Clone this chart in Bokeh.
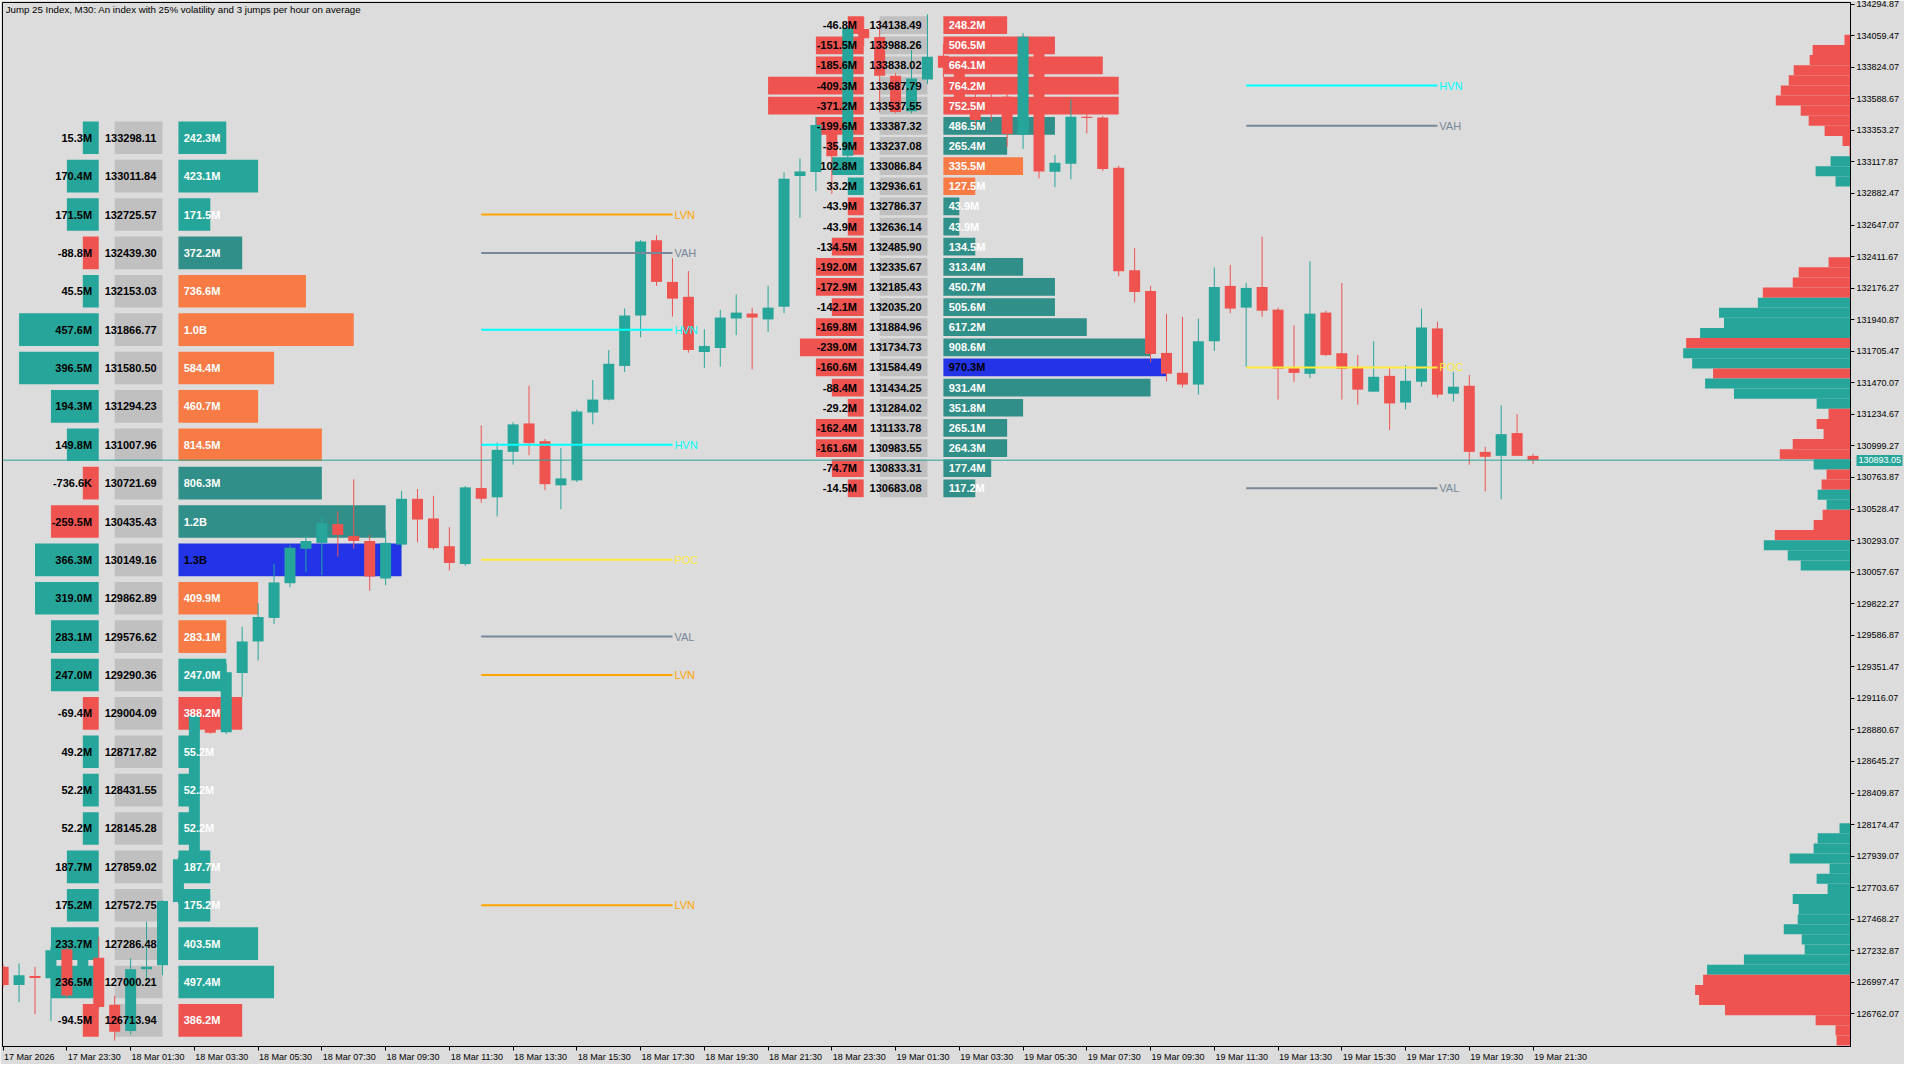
import math
from bokeh.plotting import figure
from bokeh.models import (ColumnDataSource, FixedTicker, Span, Label, NumeralTickFormatter, Range1d,
                          LinearAxis)
from bokeh.core.properties import value
from bokeh.embed import file_html
from bokeh.resources import INLINE

TITLE = "Jump 25 Index, M30:  An index with 25% volatility and 3 jumps per hour on average"

# ---------------- candles (M30 bars, index 0 = 17 Mar 21:30) ----------------
opens = [127113, 126978, 127044, 127027, 127244, 127090, 127181, 126830, 126635, 127095,
         127124, 127597, 127915, 129000, 128864, 129306, 129541, 129716, 129975, 130232,
         130276, 130416, 130328, 130290, 130010, 130263, 130605, 130458, 130251, 130118,
         130685, 130616, 130955, 131167, 131035, 130705, 130742, 131249, 131345, 131596,
         131972, 132533, 132223, 132112, 131700, 131730, 131950, 131987, 131943, 132038,
         133013, 133042, 133393, 133165, 134110, 134050, 133760, 133497, 133733, 133910,
         133830, 133600, 133560, 133605, 133320, 133930, 133045, 133105, 133455, 133450,
         133075, 132310, 132155, 131693, 131545, 131457, 131780, 132193, 132031, 132185,
         132016, 131588, 131537, 131994, 131691, 131581, 131404, 131522, 131323, 131478,
         131876, 131389, 131448, 130955, 130925, 131095, 130925]
highs = [127130, 127138, 127113, 127260, 127260, 127200, 127336, 126897, 127176, 127450,
         127610, 127930, 129000, 129050, 129377, 129650, 129826, 130120, 130260, 130328,
         130482, 130511, 130750, 130335, 130372, 130663, 130678, 130627, 130393, 130700,
         131152, 131025, 131175, 131449, 131050, 130985, 131270, 131492, 131714, 132025,
         132535, 132570, 132400, 132304, 131870, 132015, 132130, 132030, 132194, 133040,
         133143, 133453, 133420, 134130, 134200, 134175, 133780, 133953, 134219, 134000,
         133900, 133640, 133640, 133640, 134080, 134000, 133170, 133585, 133600, 133460,
         133090, 132475, 132193, 131985, 131963, 131950, 132330, 132350, 132215, 132561,
         132030, 131898, 132377, 132008, 132214, 131677, 131780, 131581, 131603, 132023,
         131927, 131552, 131529, 130992, 131301, 131235, 130940]
lows = [126960, 126850, 126760, 126710, 126880, 127040, 126800, 126563, 126610, 127005,
        127051, 127580, 127900, 128850, 128850, 129127, 129399, 129670, 129945, 130057,
        130035, 130173, 130232, 129920, 129960, 130240, 130280, 130225, 130070, 130105,
        130575, 130474, 130860, 130930, 130670, 130527, 130730, 131160, 131340, 131550,
        131810, 132193, 131965, 131695, 131582, 131590, 131826, 131570, 131850, 131990,
        132700, 132900, 132880, 133050, 133980, 133488, 133480, 133480, 133700, 133750,
        133500, 133360, 133420, 133230, 133215, 132995, 132930, 132988, 133330, 133050,
        132265, 132070, 131623, 131480, 131435, 131383, 131708, 131990, 131590, 131964,
        131345, 131478, 131507, 131670, 131345, 131308, 131404, 131117, 131272, 131441,
        131360, 131330, 130859, 130660, 130601, 130925, 130866]
closes = [126978, 127051, 127030, 127236, 126900, 127170, 126813, 126628, 127095, 127113,
          127604, 127915, 128988, 128860, 129310, 129540, 129723, 129981, 130240, 130290,
          130423, 130335, 130290, 130025, 130276, 130605, 130450, 130237, 130126, 130690,
          130605, 130970, 131160, 131020, 130714, 130757, 131256, 131345, 131612, 131972,
          132525, 132223, 132098, 131715, 131745, 131957, 131994, 131957, 132031, 132993,
          133047, 133393, 133160, 134115, 134040, 133760, 133490, 133740, 133902, 133821,
          133560, 133430, 133480, 133327, 134052, 133047, 133112, 133455, 133445, 133065,
          132303, 132148, 131685, 131538, 131457, 131780, 132185, 132024, 132178, 132008,
          131574, 131544, 131986, 131677, 131574, 131419, 131515, 131316, 131485, 131883,
          131382, 131441, 130955, 130918, 131087, 130925, 130893.05]

last_price = 130893.05

# ---------------- axes ----------------
x_tick_pos = [0, 4, 8, 12, 16, 20, 24, 28, 32, 36, 40, 44, 48, 52, 56, 60, 64, 68, 72, 76, 80, 84, 88, 92, 96]
x_tick_labels = ["17 Mar 2026", "17 Mar 23:30", "18 Mar 01:30", "18 Mar 03:30", "18 Mar 05:30",
                 "18 Mar 07:30", "18 Mar 09:30", "18 Mar 11:30", "18 Mar 13:30", "18 Mar 15:30",
                 "18 Mar 17:30", "18 Mar 19:30", "18 Mar 21:30", "18 Mar 23:30", "19 Mar 01:30",
                 "19 Mar 03:30", "19 Mar 05:30", "19 Mar 07:30", "19 Mar 09:30", "19 Mar 11:30",
                 "19 Mar 13:30", "19 Mar 15:30", "19 Mar 17:30", "19 Mar 19:30", "19 Mar 21:30"]
y_ticks = [134294.87, 134059.47, 133824.07, 133588.67, 133353.27, 133117.87, 132882.47, 132647.07,
           132411.67, 132176.27, 131940.87, 131705.47, 131470.07, 131234.67, 130999.27, 130763.87,
           130528.47, 130293.07, 130057.67, 129822.27, 129586.87, 129351.47, 129116.07, 128880.67,
           128645.27, 128409.87, 128174.47, 127939.07, 127703.67, 127468.27, 127232.87, 126997.47,
           126762.07]

# ---------------- session profile tables (values in millions) ----------------
left_prices = [133298.11, 133011.84, 132725.57, 132439.30, 132153.03, 131866.77, 131580.50, 131294.23,
               131007.96, 130721.69, 130435.43, 130149.16, 129862.89, 129576.62, 129290.36, 129004.09,
               128717.82, 128431.55, 128145.28, 127859.02, 127572.75, 127286.48, 127000.21, 126713.94]
left_delta = [15.3, 170.4, 171.5, -88.8, 45.5, 457.6, 396.5, 194.3, 149.8, -0.7366, -259.5, 366.3,
              319.0, 283.1, 247.0, -69.4, 49.2, 52.2, 52.2, 187.7, 175.2, 233.7, 236.5, -94.5]
left_volume = [242.3, 423.1, 171.5, 372.2, 736.6, 1020.0, 584.4, 460.7, 814.5, 806.3, 1200.0, 1291.0,
               409.9, 283.1, 247.0, 388.2, 55.2, 52.2, 52.2, 187.7, 175.2, 403.5, 497.4, 386.2]
left_kind = ["buy", "buy", "buy", "node", "va", "va", "va", "va", "va", "node", "node", "poc",
             "va", "va", "buy", "sell", "buy", "buy", "buy", "buy", "buy", "buy", "buy", "sell"]

right_prices = [134138.49, 133988.26, 133838.02, 133687.79, 133537.55, 133387.32, 133237.08, 133086.84,
                132936.61, 132786.37, 132636.14, 132485.90, 132335.67, 132185.43, 132035.20, 131884.96,
                131734.73, 131584.49, 131434.25, 131284.02, 131133.78, 130983.55, 130833.31, 130683.08]
right_delta = [-46.8, -151.5, -185.6, -409.3, -371.2, -199.6, -35.9, 102.8, 33.2, -43.9, -43.9, -134.5,
               -192.0, -172.9, -142.1, -169.8, -239.0, -160.6, -88.4, -29.2, -162.4, -161.6, -74.7, -14.5]
right_volume = [248.2, 506.5, 664.1, 764.2, 752.5, 486.5, 265.4, 335.5, 127.5, 43.9, 43.9, 134.5,
                313.4, 450.7, 505.6, 617.2, 908.6, 970.3, 931.4, 351.8, 265.1, 264.3, 177.4, 117.2]
right_kind = ["sell", "sell", "sell", "sell", "sell", "node", "node", "va", "va", "node", "node", "node",
              "node", "node", "node", "node", "node", "poc", "node", "node", "node", "node", "node", "node"]

left_level_names = ["LVN", "VAH", "HVN", "HVN", "POC", "VAL", "LVN", "LVN"]
left_level_prices = [132725.57, 132439.30, 131866.77, 131007.96, 130149.16, 129576.62, 129290.36, 127572.75]
right_level_names = ["HVN", "VAH", "POC", "VAL"]
right_level_prices = [133687.79, 133387.32, 131584.49, 130683.08]

# ---------------- overall volume profile on the right edge (top bin first) ----------------
profile_top = 134066.0
profile_bin = 75.4
profile_volume = [6, 38, 41, 57, 62, 70, 75, 50, 42, 26, 8, 1, 20, 35, 15,
                  0, 0, 0, 0, 0, 0, 0,
                  22, 52, 58, 88, 93, 132, 127, 151, 165, 168, 159, 138, 146, 117, 34, 22, 34, 27, 58,
                  71, 37, 24, 29, 33, 24, 28, 37, 76, 87, 63, 50,
                  0, 0, 0, 0, 0, 0, 0, 0, 0, 0, 0, 0, 0, 0, 0, 0, 0, 0, 0, 0, 0, 0, 0, 0, 0,
                  11, 33, 37, 61, 21, 34, 23, 58, 52, 53, 67, 49, 46, 107, 144, 148, 156, 152, 126,
                  35, 15, 14]
profile_side = (["sell"] * 12 + ["buy"] * 3 + ["none"] * 7 +
                ["sell"] * 4 + ["buy"] * 4 + ["sell"] + ["buy"] * 2 + ["sell"] + ["buy"] * 3 +
                ["sell"] * 5 + ["buy"] + ["sell"] * 2 + ["buy"] * 2 + ["sell"] * 3 + ["buy"] * 3 +
                ["none"] * 25 + ["buy"] * 15 + ["sell"] * 7)

# ---------------- styling ----------------
BG = "#DCDCDC"
TEAL = "#26A69A"
RED = "#EF5350"
KIND_COLORS = {"buy": TEAL, "sell": RED, "node": "#318F89", "va": "#F87B45", "poc": "#2234E6"}
LEVEL_COLORS = {"LVN": "#FFA500", "VAH": "#778899", "VAL": "#778899", "HVN": "#00FFFF", "POC": "#FFEB3B"}
FONT = value("Liberation Sans")

X0, X1 = -0.04, 115.92
Y0, Y1 = 126518.7, 134307.4
W, H = 1904, 1064
BORDER_L, BORDER_T, BORDER_R, BORDER_B = 2, 2, 52, 16
PX_PER_BAR = (W - BORDER_R - BORDER_L) / (X1 - X0)

p = figure(width=W, height=H, x_range=Range1d(X0, X1), y_range=Range1d(Y0, Y1),
           output_backend="svg", toolbar_location=None, y_axis_location="right",
           background_fill_color=BG, border_fill_color=BG,
           min_border_left=BORDER_L, min_border_top=BORDER_T, min_border_right=BORDER_R,
           min_border_bottom=BORDER_B)
p.xgrid.visible = False
p.ygrid.visible = False
p.outline_line_color = "black"
p.outline_line_width = 1

# x labels start at their tick (MetaTrader style): centre each label half its width to the right
CHAR_W = {" ": 0.278, ":": 0.278, "M": 0.833, "a": 0.556, "r": 0.333}


def label_shift(t, size=9.0):
    w = sum(CHAR_W.get(ch, 0.556) for ch in t) * size
    return round((w / 2 + 1) / PX_PER_BAR, 3)


label_pos = [round(x + label_shift(t), 3) for x, t in zip(x_tick_pos, x_tick_labels)]
xa = p.xaxis[0]
xa.ticker = FixedTicker(ticks=label_pos, minor_ticks=x_tick_pos)
xa.major_label_overrides = {k: v for k, v in zip(label_pos, x_tick_labels)}
xa.major_label_text_font = "Liberation Sans"
xa.major_label_text_font_size = "9px"
xa.major_label_text_color = "black"
xa.major_tick_out = 4
xa.major_tick_in = 0
xa.major_tick_line_color = None
xa.minor_tick_out = 4
xa.minor_tick_in = 0
xa.minor_tick_line_color = "black"
xa.axis_line_color = "black"
xa.major_label_standoff = 1

ya = p.yaxis[0]
ya.ticker = FixedTicker(ticks=y_ticks)
ya.formatter = NumeralTickFormatter(format="0.00")
ya.major_label_text_font = "Liberation Sans"
ya.major_label_text_font_size = "9px"
ya.major_label_text_color = "black"
ya.major_tick_out = 4
ya.major_tick_in = 0
ya.minor_tick_line_color = None
ya.axis_line_color = "black"
ya.major_label_standoff = 2

# last-price tag on the price scale: a second, outer axis whose single tick is drawn back over the scale
tag = LinearAxis(ticker=FixedTicker(ticks=[last_price]), formatter=NumeralTickFormatter(format="0.00"),
                 axis_line_color=None, major_tick_in=46, major_tick_out=0, major_tick_line_color=TEAL,
                 major_tick_line_width=11, minor_tick_line_color=None, major_label_standoff=-44,
                 major_label_text_color="white", major_label_text_font="Liberation Sans",
                 major_label_text_font_size="9px")
p.add_layout(tag, "right")


def fmt(v):
    a = abs(v)
    if a >= 1000:
        return f"{v / 1000:.1f}B"
    if a >= 1:
        return f"{v:.1f}M"
    return f"{v * 1000:.1f}K"


def table(i0, prices, deltas, vols, kinds, step, hfrac):
    vmax = max(vols)
    cv = vmax / 13.2
    cd = vmax / 13.4
    h = step * hfrac
    top = [pr + h / 2 for pr in prices]
    bot = [pr - h / 2 for pr in prices]
    dcells = [math.ceil(abs(d) / cd) for d in deltas]
    vcells = [math.ceil(v / cv) for v in vols]
    src = ColumnDataSource(dict(
        price=prices, top=top, bot=bot,
        dl=[i0 - n for n in dcells], dr=[i0] * len(prices),
        dcol=[TEAL if d >= 0 else RED for d in deltas],
        gl=[i0 + 1] * len(prices), gr=[i0 + 4] * len(prices),
        vl=[i0 + 5] * len(prices), vr=[i0 + 5 + n for n in vcells],
        vcol=[KIND_COLORS[k] for k in kinds],
        dtxt=[fmt(d) for d in deltas], ptxt=[f"{pr:.2f}" for pr in prices],
        vtxt=[fmt(v) for v in vols],
        vtc=["black" if k == "poc" else "white" for k in kinds],
        dx=[i0 - 0.42] * len(prices), px=[i0 + 2.0] * len(prices), vx=[i0 + 5.33] * len(prices),
    ))
    p.quad(left="dl", right="dr", top="top", bottom="bot", fill_color="dcol", line_color=None, source=src)
    p.quad(left="gl", right="gr", top="top", bottom="bot", fill_color="#C0C0C0", line_color=None, source=src)
    p.quad(left="vl", right="vr", top="top", bottom="bot", fill_color="vcol", line_color=None, source=src)
    return src


def table_text(src):
    common = dict(text_font=FONT, text_font_style="bold", text_font_size="11px", text_baseline="middle",
                  source=src)
    p.text(x="dx", y="price", text="dtxt", text_align="right", text_color="black", **common)
    p.text(x="px", y="price", text="ptxt", text_align="center", text_color="black", **common)
    p.text(x="vx", y="price", text="vtxt", text_align="left", text_color="vtc", **common)


lsrc = table(6, left_prices, left_delta, left_volume, left_kind, 286.27, 0.85)
rsrc = table(54, right_prices, right_delta, right_volume, right_kind, 150.23, 0.88)

# right-edge overall profile
pv_top, pv_bot, pv_left, pv_col = [], [], [], []
for k, (v, s) in enumerate(zip(profile_volume, profile_side)):
    if v <= 0 or s == "none":
        continue
    pv_top.append(profile_top - k * profile_bin)
    pv_bot.append(profile_top - (k + 1) * profile_bin)
    pv_left.append(X1 - v / 16.0)
    pv_col.append(TEAL if s == "buy" else RED)
p.quad(left=pv_left, right=[X1] * len(pv_left), top=pv_top, bottom=pv_bot, fill_color=pv_col, line_color=None)

# current price line
p.add_layout(Span(location=last_price, dimension="width", line_color=TEAL, line_width=1))

# candles
xs = list(range(len(opens)))
ccol = [TEAL if c >= o else RED for o, c in zip(opens, closes)]
csrc = ColumnDataSource(dict(x=xs, o=opens, h=highs, l=lows, c=closes,
                             top=[max(o, c) for o, c in zip(opens, closes)],
                             bottom=[min(o, c) for o, c in zip(opens, closes)], color=ccol))
p.segment(x0="x", y0="l", x1="x", y1="h", line_color="color", line_width=1, source=csrc)
p.vbar(x="x", width=0.69, top="top", bottom="bottom", fill_color="color", line_color=None, source=csrc)


# session levels
def levels(names, prices, xa0, xa1):
    cols = [LEVEL_COLORS[n] for n in names]
    src = ColumnDataSource(dict(x0=[xa0] * len(names), x1=[xa1] * len(names), y=prices, c=cols, t=names,
                                tx=[xa1 + 0.12] * len(names)))
    p.segment(x0="x0", y0="y", x1="x1", y1="y", line_color="c", line_width=2, source=src)
    p.text(x="tx", y="y", text="t", text_color="c", text_font=FONT, text_font_size="11px",
           text_baseline="middle", text_align="left", source=src)


levels(left_level_names, left_level_prices, 30, 42)
levels(right_level_names, right_level_prices, 78, 90)

table_text(lsrc)
table_text(rsrc)

p.add_layout(Label(x=X0 + 0.2, y=Y1 - 12, text=TITLE, text_font="Liberation Sans", text_font_size="9.7px",
                   text_color="black", text_baseline="top", text_align="left"))

open("out.html", "w").write(file_html(p, INLINE))
